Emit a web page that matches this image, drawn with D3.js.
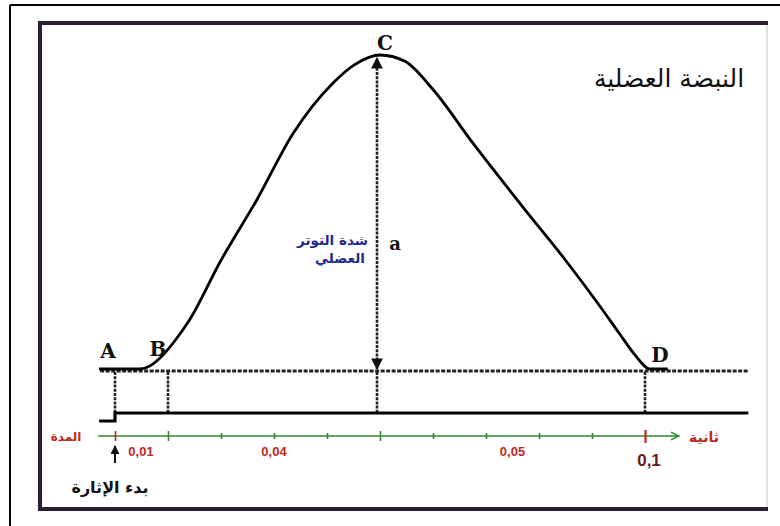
<!DOCTYPE html>
<html>
<head>
<meta charset="utf-8">
<script src="https://cdn.jsdelivr.net/npm/d3@7"></script>
<style>
  body { margin: 0; background: #fff; }
  svg { display: block; }
  .ar { font-family: "DejaVu Sans", sans-serif; }
  .pt { font-family: "DejaVu Serif", "Liberation Serif", serif; font-weight: bold; }
</style>
</head>
<body>
<svg id="chart" width="780" height="526"></svg>
<script>
// muscle twitch: time (s) vs relative tension (%)
const curveTime    = [-0.003, 0.0047, 0.0066, 0.0085, 0.0113, 0.0142, 0.0198, 0.0268, 0.0336, 0.0411, 0.0453, 0.05,
                      0.0547, 0.06, 0.0675, 0.077, 0.0853, 0.0915, 0.0953, 0.0981, 0.101, 0.1043]
const curveTension = [0, 0, 1, 3.5, 9, 16, 34, 54, 75, 91, 97, 100,
                      98, 89, 72, 51.5, 34, 20, 11, 4.5, 0, 0]

// stimulus trace
const stimTime  = [-0.003, 0, 0, 0.1195]
const stimLevel = [0, 0, 1, 1]

// phase points
const pointNames = ["A", "B", "C", "D"]
const pointTime  = [0, 0.01, 0.05, 0.1]

// axis ticks every 0.01 s, bigger ones at phase limits
const tickTimes = [0, 0.01, 0.02, 0.03, 0.04, 0.05, 0.06, 0.07, 0.08, 0.09, 0.1]
const bigTicks  = [0, 0.01, 0.05, 0.1]
const spanLabels = ["0,01", "0,04", "0,05"]
const spanFrom   = [0, 0.01, 0.05]
const spanTo     = [0.01, 0.05, 0.1]

const svg = d3.select("#chart")

const x = d3.scaleLinear().domain([0, 0.1]).range([115, 645])
const y = d3.scaleLinear().domain([0, 100]).range([369, 55])
const ys = d3.scaleLinear().domain([0, 1]).range([421, 413])

const red = "#c0281e"
const green = "#2f8a2f"

// frames
svg.append("line").attr("x1", 10).attr("y1", 5).attr("x2", 780).attr("y2", 5)
  .attr("stroke", "#000").attr("stroke-width", 2)
svg.append("line").attr("x1", 10).attr("y1", 5).attr("x2", 10).attr("y2", 526)
  .attr("stroke", "#000").attr("stroke-width", 2)

svg.append("line").attr("x1", 767).attr("y1", 23).attr("x2", 767).attr("y2", 509)
  .attr("stroke", "#d8d8dc").attr("stroke-width", 1.5)
svg.append("path")
  .attr("d", "M768,23 H40 V509 H768")
  .attr("fill", "none").attr("stroke", "#2b1d33").attr("stroke-width", 4)

// defs for arrow heads
const defs = svg.append("defs")
defs.append("marker").attr("id", "ah").attr("viewBox", "0 0 10 10")
  .attr("refX", 9).attr("refY", 5).attr("markerWidth", 4.5).attr("markerHeight", 4.5)
  .attr("orient", "auto-start-reverse")
  .append("path").attr("d", "M0,0 L10,5 L0,10 z").attr("fill", "#111")
defs.append("marker").attr("id", "gh").attr("viewBox", "0 0 10 10")
  .attr("refX", 8).attr("refY", 5).attr("markerWidth", 6).attr("markerHeight", 6)
  .attr("orient", "auto")
  .append("path").attr("d", "M1,1 L9,5 L1,9").attr("fill", "none").attr("stroke", green).attr("stroke-width", 1.6)

// baseline dashed
svg.append("line")
  .attr("x1", x(-0.0028)).attr("x2", x(0.1194)).attr("y1", y(0) + 2).attr("y2", y(0) + 2)
  .attr("stroke", "#222").attr("stroke-width", 3).attr("stroke-dasharray", "4,1.5")

// vertical dashed lines at A, B, D
const vert = [pointTime[0], pointTime[1], pointTime[3]]
svg.selectAll(".vd").data(vert).join("line")
  .attr("class", "vd")
  .attr("x1", d => x(d)).attr("x2", d => x(d))
  .attr("y1", y(0) + 3).attr("y2", ys(1))
  .attr("stroke", "#222").attr("stroke-width", 2.6).attr("stroke-dasharray", "3,1.2")

// amplitude arrow a
svg.append("line")
  .attr("x1", x(0.05) - 3).attr("x2", x(0.05) - 3)
  .attr("y1", y(0)).attr("y2", y(100) + 3)
  .attr("stroke", "#222").attr("stroke-width", 2.6).attr("stroke-dasharray", "3,1.2")
  .attr("marker-start", "url(#ah)").attr("marker-end", "url(#ah)")
svg.append("line")
  .attr("x1", x(0.05) - 3).attr("x2", x(0.05) - 3)
  .attr("y1", y(0) + 3).attr("y2", ys(1))
  .attr("stroke", "#222").attr("stroke-width", 2.6).attr("stroke-dasharray", "3,1.2")

// twitch curve
const pts = curveTime.map((t, i) => [t, curveTension[i]])
const line = d3.line().x(d => x(d[0])).y(d => y(d[1])).curve(d3.curveMonotoneX)
svg.append("path").datum(pts).attr("d", line)
  .attr("fill", "none").attr("stroke", "#000").attr("stroke-width", 2.8)

// stimulus
const spts = stimTime.map((t, i) => [t, stimLevel[i]])
svg.append("path").datum(spts)
  .attr("d", d3.line().x(d => x(d[0])).y(d => ys(d[1])))
  .attr("fill", "none").attr("stroke", "#000").attr("stroke-width", 3.2)

// time axis
const axisY = 436
svg.append("line").attr("x1", x(-0.0032)).attr("x2", x(0.1062))
  .attr("y1", axisY).attr("y2", axisY)
  .attr("stroke", green).attr("stroke-width", 1.6).attr("marker-end", "url(#gh)")

const axis = d3.axisBottom(x).tickValues(tickTimes).tickFormat("").tickSizeOuter(0)
const ag = svg.append("g").attr("transform", `translate(0,${axisY})`).call(axis)
ag.select(".domain").remove()
ag.selectAll(".tick line")
  .attr("y1", d => bigTicks.includes(d) ? (d === 0.1 ? -6 : -5) : -3)
  .attr("y2", d => bigTicks.includes(d) ? (d === 0.1 ? 7 : 5) : 3)
  .attr("stroke", d => (d === 0 || d === 0.1) ? red : green)
  .attr("stroke-width", d => d === 0.1 ? 2.2 : 1.6)

svg.selectAll(".span").data(spanLabels).join("text")
  .attr("class", "span")
  .attr("x", (d, i) => spanFrom[i] === 0 ? x(spanTo[i]) - 27 : (x(spanFrom[i]) + x(spanTo[i])) / 2)
  .attr("y", 456)
  .attr("text-anchor", "middle")
  .attr("font-family", "Liberation Sans, Arial, sans-serif").attr("font-weight", "bold")
  .attr("font-size", 13).attr("fill", red)
  .text(d => d)

svg.append("text").attr("x", x(0.1) + 4).attr("y", 466).attr("text-anchor", "middle")
  .attr("font-family", "Liberation Sans, Arial, sans-serif").attr("font-weight", "bold")
  .attr("font-size", 17).attr("fill", "#6e1a16").text("0,1")

svg.append("text").attr("class", "ar").attr("x", 66).attr("y", 441).attr("text-anchor", "middle")
  .attr("font-size", 12).attr("font-weight", "bold").attr("fill", red).text("المدة")
svg.append("text").attr("class", "ar").attr("x", 704).attr("y", 442).attr("text-anchor", "middle")
  .attr("font-size", 14).attr("font-weight", "bold").attr("fill", red).text("ثانية")

// stimulus start arrow
svg.append("line").attr("x1", x(0)).attr("x2", x(0)).attr("y1", 463).attr("y2", 446)
  .attr("stroke", "#111").attr("stroke-width", 2).attr("marker-end", "url(#ah)")
svg.append("text").attr("class", "ar").attr("x", 110).attr("y", 493).attr("text-anchor", "middle")
  .attr("font-size", 16).attr("font-weight", "bold").attr("fill", "#111").text("بدء الإثارة")

// point letters
const labelDx = [-7, -10, 5, 15]
const labelY  = [358, 356, 50, 362]
svg.selectAll(".pl").data(pointNames).join("text")
  .attr("class", "pt")
  .attr("x", (d, i) => x(pointTime[i]) + labelDx[i])
  .attr("y", (d, i) => labelY[i])
  .attr("text-anchor", "middle").attr("font-size", 20).attr("fill", "#111")
  .text(d => d)

svg.append("text").attr("class", "pt").attr("x", 395).attr("y", 250).attr("text-anchor", "middle")
  .attr("font-size", 18).attr("fill", "#111").text("a")

svg.append("text").attr("class", "ar").attr("x", 368).attr("y", 245).attr("text-anchor", "end")
  .attr("font-size", 13.5).attr("font-weight", "bold").attr("fill", "#1f2a8a").text("شدة التوتر")
svg.append("text").attr("class", "ar").attr("x", 340).attr("y", 263).attr("text-anchor", "middle")
  .attr("font-size", 13.5).attr("font-weight", "bold").attr("fill", "#1f2a8a").text("العضلي")

// title
svg.append("text").attr("class", "ar").attr("x", 669).attr("y", 87).attr("text-anchor", "middle")
  .attr("font-size", 25).attr("fill", "#111").text("النبضة العضلية")
</script>
</body>
</html>
